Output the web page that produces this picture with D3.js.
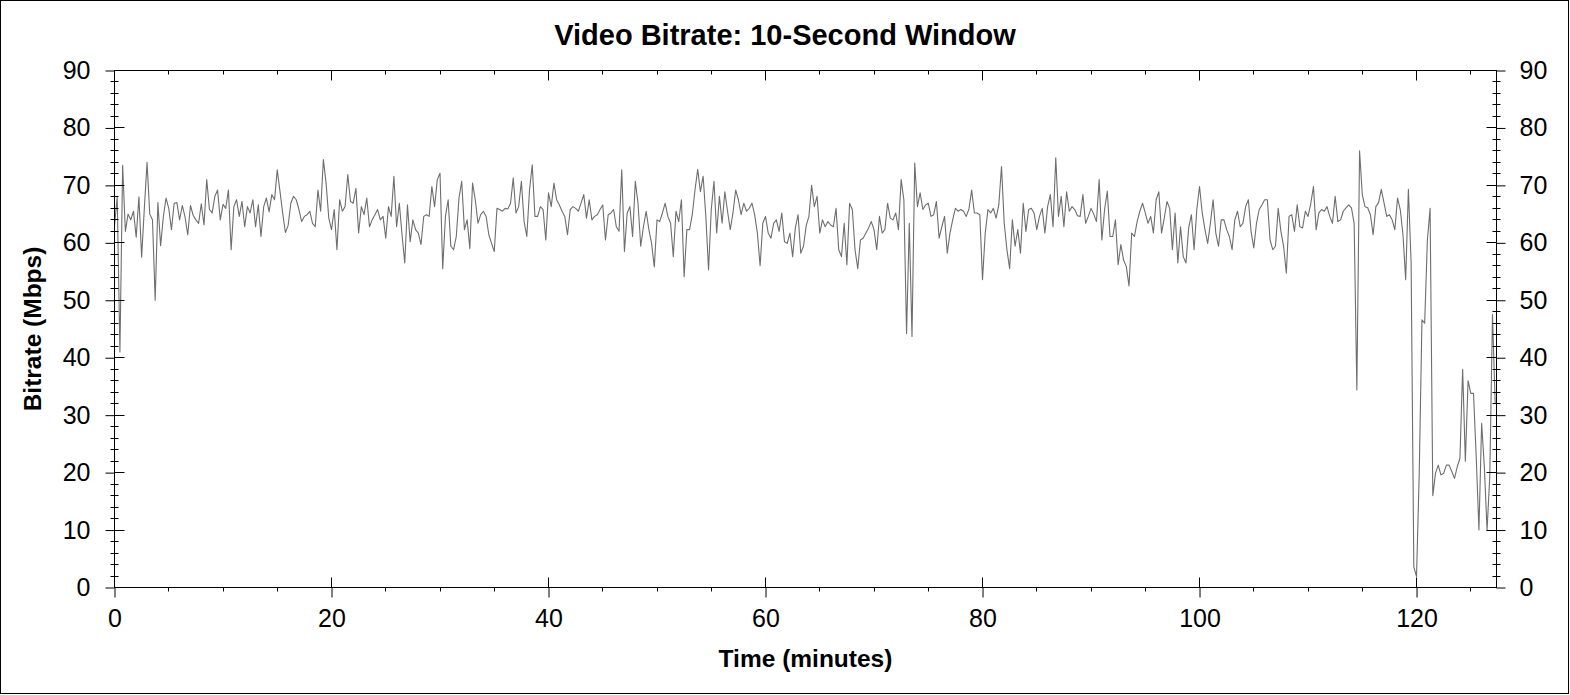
<!DOCTYPE html>
<html>
<head>
<meta charset="utf-8">
<script src="https://cdn.jsdelivr.net/npm/d3@7"></script>
<style>
  html, body { margin: 0; padding: 0; background: #fff; }
  svg { display: block; font-family: Arial, "Liberation Sans", sans-serif; }
</style>
</head>
<body>
<svg id="chart" width="1570" height="695"></svg>
<script>
var chartTitle = 'Video Bitrate: 10-Second Window';
var xTitle = 'Time (minutes)';
var yTitle = 'Bitrate (Mbps)';
var xTicks = [0, 20, 40, 60, 80, 100, 120];
var yTicks = [0, 10, 20, 30, 40, 50, 60, 70, 80, 90];
var xMax = 127.37;       // end of the time axis, minutes
var sampleStep = 0.25;   // minutes between samples

// bitrate in Mbps, one sample every 0.25 min starting at 0
var bitrate = [
  // 0 - 15.75
  63, 68, 41, 73.5, 62, 65, 64, 65.5, 61, 68, 57.5, 66, 74, 65, 64, 50,
  67, 59.5, 64.5, 67.8, 66, 62.3, 66.9, 67, 64, 66.5, 64.5, 61.4, 66.5, 64.8, 64, 63.4,
  66.8, 63.1, 71, 65.8, 65.2, 68.1, 69.2, 64, 66.7, 66, 69.2, 58.8, 66.3, 67.5, 64.6, 67.2,
  62.8, 66.3, 65.2, 67.5, 62.8, 66.6, 61.1, 66.3, 67.8, 65.4, 68.4, 67.5, 72.7, 69, 65.2, 61.8,
  // 16 - 31.75
  63, 66.9, 68.1, 67.5, 65.8, 63.7, 64.6, 64.9, 65.5, 63.4, 62.8, 69.2, 65.5, 74.5, 70.4, 64.3,
  62.3, 65.8, 58.8, 67.5, 65.5, 66.3, 71.9, 67.2, 66.9, 69.5, 61.7, 66.3, 64.9, 67.8, 62.8, 64,
  64.9, 65.8, 64, 64.6, 60.8, 66.3, 64.6, 71.6, 62.8, 66.9, 61.4, 56.5, 66.6, 60.2, 64, 62.3,
  61.7, 59.7, 64.6, 64.9, 64.6, 69.8, 66.3, 71, 72.1, 55.5, 64.6, 67.5, 59.4, 58.8, 61.1, 67.8,
  // 32 - 47.75
  70.7, 62.3, 64, 59, 70.4, 67.5, 63.4, 64.9, 65.5, 64.6, 61.4, 59.9, 58.5, 66, 65.8, 65.5,
  66, 65.9, 66.9, 71.3, 65.2, 66.3, 70.7, 63.7, 61.1, 69.2, 73.6, 64.6, 64.6, 66.3, 65.8, 60.5,
  68.7, 66.3, 70.4, 67.5, 66.6, 65.5, 64.6, 61.4, 65.8, 66.3, 66, 65.5, 66.9, 68.4, 64.3, 67.5,
  64, 64.6, 64.9, 65.8, 66.6, 60.5, 64.9, 65.2, 65.8, 62.8, 62, 72.7, 58.5, 65.2, 66.3, 61.1,
  // 48 - 63.75
  70.7, 66.9, 59.4, 62.8, 65.5, 62.3, 59.9, 55.8, 64, 63.7, 65.2, 66.9, 64.6, 63.4, 57.6, 65.5,
  63.7, 67.5, 54.1, 62.3, 62.3, 64.9, 69.2, 72.8, 68.9, 71.6, 64.6, 55.3, 65.8, 70.7, 61.7, 68.1,
  63.4, 68.9, 65.5, 62.3, 65.2, 69.2, 67.5, 64.9, 66.9, 65.5, 66, 66.9, 64.9, 61.7, 56, 63.4,
  64.6, 61.7, 60.8, 63.4, 64, 62, 65.2, 60.2, 59.9, 61.7, 57.6, 62.6, 64.9, 58.2, 59.4, 63,
  // 64 - 80.25
  64.6, 70, 66.3, 68.1, 61.7, 64, 62.8, 63.7, 63.1, 62.8, 66, 58.8, 57.6, 63.4, 56.2, 66.9,
  65.8, 58.8, 55.5, 60.5, 60.8, 61.7, 62.6, 63.7, 62.3, 58.8, 64.6, 61.7, 62.3, 66.9, 64.3, 64,
  65.2, 62.3, 71, 67.5, 44.2, 63.4, 43.7, 73.9, 66.3, 68.7, 65.8, 66.6, 66.9, 64.6, 64.9, 67.2,
  60.8, 62.8, 64.6, 58.2, 61.7, 64, 66, 65.5, 65.8, 65.5, 64.6, 65.9, 69.2, 65.2, 65.2, 64.9,
  53.6, 61.7,
  // 80.5 - 96.25
  65.8, 65.2, 66, 64.3, 66.6, 73.3, 63.4, 58.8, 55.5, 64, 59.4, 62.3, 58.2, 66.9, 62, 65.8,
  66, 65.2, 62.3, 64.6, 66, 61.7, 66.3, 68.4, 62.8, 74.8, 64.6, 68.1, 62.8, 68.9, 65.5, 66.3,
  65.8, 64.7, 64.6, 68.4, 63.4, 64.6, 66, 65, 63.7, 71, 60.5, 65.8, 69, 61.1, 61.1, 64,
  56.2, 59.7, 57, 55.9, 52.5, 61.7, 61.1, 63.7, 65.5, 66.9, 65.2, 63.4, 64.6, 61.7, 67.5, 68.9,
  // 96.5 - 113
  61.7, 64.3, 67.2, 66, 58.8, 65.2, 56.5, 62.8, 57.6, 56.5, 62.6, 64.9, 58.8, 65.8, 69.8, 65.2,
  62.3, 59.9, 63.4, 67.5, 61.7, 59.4, 64, 64, 62.3, 61.1, 58.8, 64, 65.5, 62.8, 63.4, 66.3,
  67.5, 62, 59.1, 63.4, 65.8, 66.6, 67.5, 67.5, 60.5, 58.8, 59.4, 66, 62, 59.4, 54.7, 64.6,
  64.9, 62, 66.6, 62.8, 62.6, 65.5, 64.6, 66.8, 69.8, 62.3, 65.2, 65.8, 65.5, 66.3, 64.6, 63.4,
  68.1, 63.7, 64,
  // 113.25 - 127.25
  65.5, 66.1, 66.6, 66.1, 63.4, 34.4, 76, 68.4, 66.3, 66.1, 64.9, 61.4, 66.3, 67, 69.3, 67,
  64.6, 64.9, 64, 62.3, 67.8, 65.8, 61.4, 53.6, 69.3, 56.5, 3.6, 1.9, 20, 46.6, 46, 60.5,
  66, 16, 19.9, 21.3, 19.6, 19.9, 21.3, 21.3, 20.2, 19, 21, 22.5, 38, 22, 36, 33.8,
  33.8, 22.8, 10, 28.6, 21, 10, 19.3, 47.5, 32
];

(function() {
  var svg = d3.select('#chart');
  var W = 1570, H = 695;
  var plotL = 114.5, plotR = 1496.5, plotT = 70.5, plotB = 587.5;
  var tickFont = 25;

  var x = d3.scaleLinear().domain([0, xMax]).range([plotL, plotR]);
  var y = d3.scaleLinear().domain([0, 90]).range([plotB, plotT]);

  // outer frame
  svg.append('rect')
    .attr('x', 0.5).attr('y', 0.5)
    .attr('width', W - 2).attr('height', H - 2)
    .attr('fill', '#fff').attr('stroke', '#000');

  // data line
  var line = d3.line()
    .x(function(d, i) { return x(i * sampleStep); })
    .y(function(d) { return y(d); });

  svg.append('path')
    .datum(bitrate)
    .attr('fill', 'none')
    .attr('stroke', '#6e6e6e')
    .attr('stroke-width', 1.1)
    .attr('stroke-linejoin', 'round')
    .attr('d', line);

  // plot box
  svg.append('rect')
    .attr('x', plotL).attr('y', plotT)
    .attr('width', plotR - plotL).attr('height', plotB - plotT)
    .attr('fill', 'none').attr('stroke', '#000');

  // labelled axes (outer half of the major ticks)
  function styleAxis(g) {
    g.select('.domain').remove();
    g.selectAll('text')
      .attr('font-size', tickFont)
      .attr('font-family', 'Arial, "Liberation Sans", sans-serif')
      .attr('fill', '#000');
  }

  svg.append('g')
    .attr('transform', 'translate(' + plotL + ',0)')
    .call(d3.axisLeft(y).tickValues(yTicks).tickSizeInner(9).tickSizeOuter(0).tickPadding(15))
    .call(styleAxis);

  svg.append('g')
    .attr('transform', 'translate(' + plotR + ',0)')
    .call(d3.axisRight(y).tickValues(yTicks).tickSizeInner(9).tickSizeOuter(0).tickPadding(14))
    .call(styleAxis);

  svg.append('g')
    .attr('transform', 'translate(0,' + plotB + ')')
    .call(d3.axisBottom(x).tickValues(xTicks).tickSizeInner(10).tickSizeOuter(0).tickPadding(12))
    .call(styleAxis);

  // inner halves, minor ticks, top ticks
  var tk = svg.append('g').attr('stroke', '#000').attr('stroke-width', 1);
  function seg(x1, y1, x2, y2) {
    tk.append('line').attr('x1', x1).attr('y1', y1).attr('x2', x2).attr('y2', y2);
  }
  yTicks.forEach(function(v) {
    var yy = Math.round(y(v) - 0.5) + 0.5;
    seg(plotL, yy, plotL + 10, yy);
    seg(plotR - 10, yy, plotR, yy);
  });
  d3.range(0, 90, 2).filter(function(v) { return v % 10 !== 0; }).forEach(function(v) {
    var yy = Math.round(y(v) - 0.5) + 0.5;
    seg(plotL - 4, yy, plotL + 4, yy);
    seg(plotR - 4, yy, plotR + 4, yy);
  });
  xTicks.forEach(function(t) {
    var xx = Math.round(x(t) - 0.5) + 0.5;
    seg(xx, plotB, xx, plotB - 10);
    seg(xx, plotT, xx, plotT + 10);
  });
  d3.range(5, xMax, 5).filter(function(t) { return t % 20 !== 0; }).forEach(function(t) {
    var xx = Math.round(x(t) - 0.5) + 0.5;
    seg(xx, plotB, xx, plotB + 4);
    seg(xx, plotT, xx, plotT + 4);
  });

  // titles
  svg.append('text')
    .attr('x', 785).attr('y', 45)
    .attr('text-anchor', 'middle')
    .attr('font-size', 29).attr('font-weight', 'bold')
    .text(chartTitle);

  svg.append('text')
    .attr('x', (plotL + plotR) / 2).attr('y', 667)
    .attr('text-anchor', 'middle')
    .attr('font-size', 24.5).attr('font-weight', 'bold')
    .text(xTitle);

  svg.append('text')
    .attr('transform', 'translate(41,' + ((plotT + plotB) / 2) + ') rotate(-90)')
    .attr('text-anchor', 'middle')
    .attr('font-size', 24.5).attr('font-weight', 'bold')
    .text(yTitle);
})();
</script>
</body>
</html>
